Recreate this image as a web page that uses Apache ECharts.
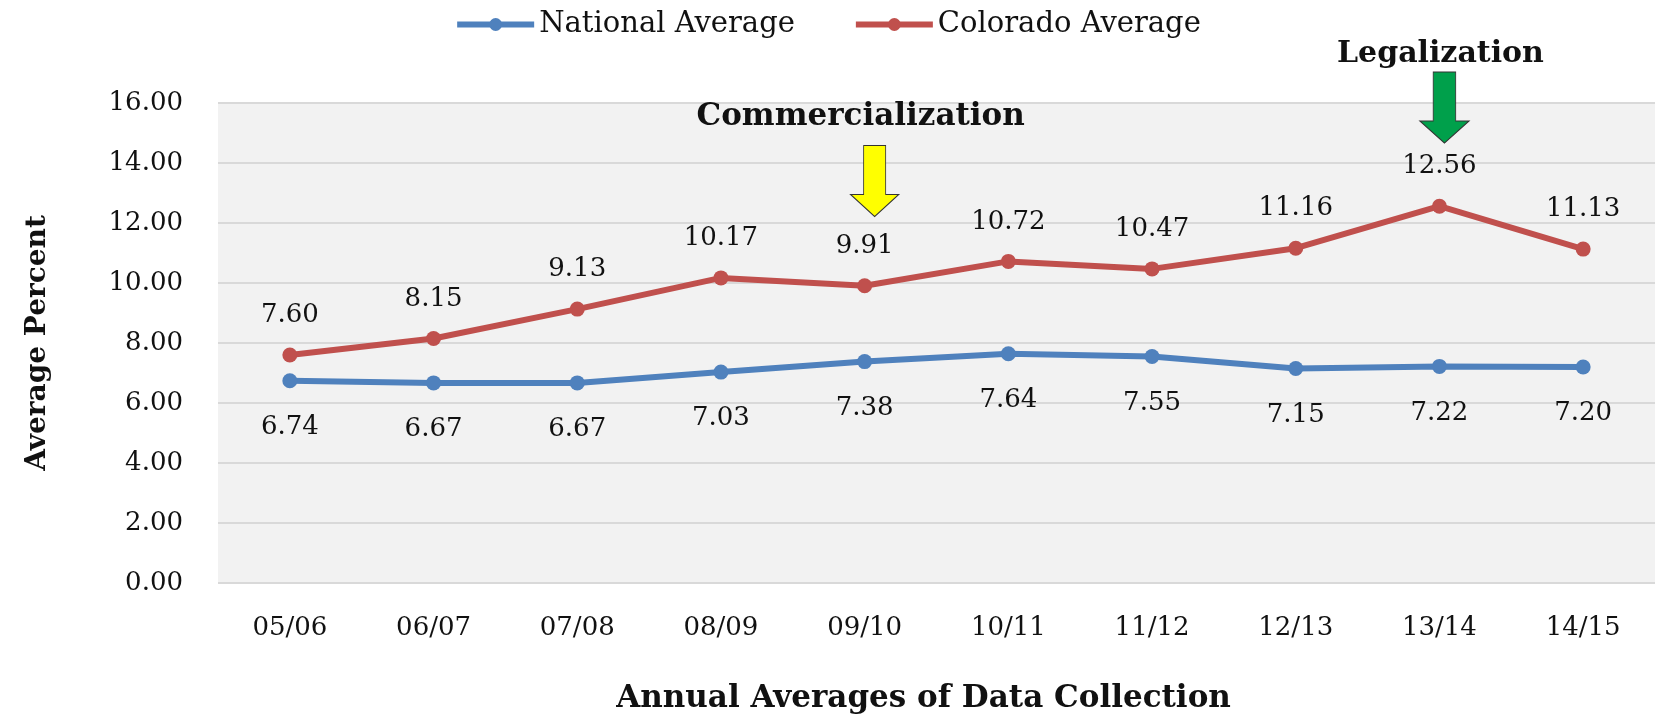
<!DOCTYPE html>
<html>
<head>
<meta charset="utf-8">
<script src="https://cdn.jsdelivr.net/npm/echarts@6/dist/echarts.min.js"></script>
<style>
  html, body { margin: 0; padding: 0; background: #fff; }
  #chart { width: 1655px; height: 725px; }
</style>
</head>
<body>
<div id="chart"></div>
<script>
// school years
var years = ['05/06', '06/07', '07/08', '08/09', '09/10', '10/11', '11/12', '12/13', '13/14', '14/15'];
var national = [6.74, 6.67, 6.67, 7.03, 7.38, 7.64, 7.55, 7.15, 7.22, 7.20];
var colorado = [7.60, 8.15, 9.13, 10.17, 9.91, 10.72, 10.47, 11.16, 12.56, 11.13];
var yTicks = [0, 2, 4, 6, 8, 10, 12, 14, 16];

var serif = 'DejaVu Serif';
var arrowPath = 'path://M13,0 L35,0 L35,49 L48,49 L24,71 L0,49 L13,49 Z';

var myChart = echarts.init(document.getElementById('chart'));

function numLabel(pos, dist) {
    return {
        show: true,
        position: pos,
        distance: dist,
        fontFamily: serif,
        fontSize: 26,
        color: '#111',
        formatter: function (p) { return p.value.toFixed(2); }
    };
}

var option = {
    animation: false,
    textStyle: { fontFamily: serif },
    legend: {
        top: 5,
        left: 'center',
        itemWidth: 77,
        itemHeight: 16,
        itemGap: 58,
        lineStyle: { width: 6 },
        textStyle: { fontFamily: serif, fontSize: 29, color: '#111' },
        data: ['National Average', 'Colorado Average']
    },
    grid: {
        left: 218,
        right: -8,
        top: 103,
        bottom: 142,
        show: true,
        backgroundColor: '#f2f2f2',
        borderWidth: 0
    },
    xAxis: {
        type: 'category',
        data: years,
        boundaryGap: true,
        axisLine: { show: false },
        axisTick: { show: false },
        axisLabel: { margin: 32, fontFamily: serif, fontSize: 26, color: '#111' },
        name: 'Annual Averages of Data Collection',
        nameLocation: 'middle',
        nameGap: 100,
        nameTextStyle: {
            fontFamily: serif, fontSize: 31, fontWeight: 'bold', color: '#111',
            padding: [0, 26, 0, 0]
        }
    },
    yAxis: {
        type: 'value',
        min: yTicks[0],
        max: yTicks[yTicks.length - 1],
        interval: 2,
        axisLine: { show: false },
        axisTick: { show: false },
        splitLine: { lineStyle: { color: '#d9d9d9', width: 2 } },
        axisLabel: {
            margin: 35,
            fontFamily: serif,
            fontSize: 26,
            color: '#111',
            formatter: function (v) { return v.toFixed(2); }
        },
        name: 'Average Percent',
        nameLocation: 'middle',
        nameGap: 166,
        nameTextStyle: { fontFamily: serif, fontSize: 28, fontWeight: 'bold', color: '#111' }
    },
    series: [{
        name: 'National Average',
        type: 'line',
        data: national,
        symbol: 'circle',
        symbolSize: 15,
        color: '#4f81bd',
        lineStyle: { width: 6, color: '#4f81bd' },
        label: numLabel('bottom', 26)
    }, {
        name: 'Colorado Average',
        type: 'line',
        data: colorado,
        symbol: 'circle',
        symbolSize: 15,
        color: '#c0504d',
        lineStyle: { width: 6, color: '#c0504d' },
        label: numLabel('top', 19),
        markPoint: {
            silent: true,
            symbolKeepAspect: false,
            data: [{
                coord: ['09/10', 13.4],
                symbol: arrowPath,
                symbolSize: [48, 71],
                symbolOffset: [10, 0],
                itemStyle: { color: '#ffff00', borderColor: '#333', borderWidth: 1 },
                label: {
                    show: true,
                    position: 'top',
                    distance: 12,
                    offset: [-14, 0],
                    formatter: 'Commercialization',
                    fontFamily: serif,
                    fontSize: 31,
                    fontWeight: 'bold',
                    color: '#111'
                }
            }, {
                coord: ['13/14', 15.85],
                symbol: arrowPath,
                symbolSize: [49, 71],
                symbolOffset: [5, 0],
                itemStyle: { color: '#00a04b', borderColor: '#333', borderWidth: 1 },
                label: {
                    show: true,
                    position: 'top',
                    distance: 2,
                    offset: [-4, 0],
                    formatter: 'Legalization',
                    fontFamily: serif,
                    fontSize: 30,
                    fontWeight: 'bold',
                    color: '#111'
                }
            }]
        }
    }]
};
myChart.setOption(option);
</script>
</body>
</html>
